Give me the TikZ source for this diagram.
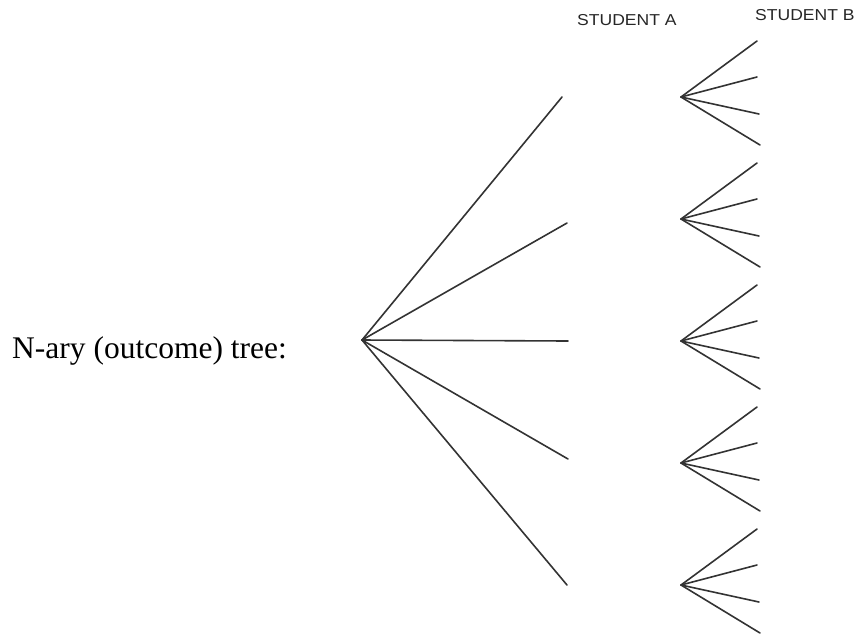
\documentclass[tikz,border=0pt]{standalone}
\usepackage{fontspec}
\usetikzlibrary{calc}
\setmainfont{Liberation Serif}
\newfontfamily\headfont{Liberation Sans}
\begin{document}
\begin{tikzpicture}[x=1pt,y=-1pt,
  branch/.style={draw=black!80,line width=1.6pt,line cap=round},
  caption/.style={anchor=base west,inner sep=0pt,font=\fontsize{31.5}{36}\selectfont},
  header/.style={anchor=base west,inner sep=0pt,text=black!85,
    font=\headfont\fontsize{15.8}{18}\selectfont}]
\useasboundingbox (0,0) rectangle (858,635);

% label on the left
\node[caption] (lbl) at (12,358) {N-ary (outcome) tree:};

% column headers
\node[header] (hA) at (577,25.5) {\scalebox{1.11}[1]{STUDENT A}};
\node[header] (hB) at (755,20.5) {\scalebox{1.11}[1]{STUDENT B}};

% first level: root and its five branches
\coordinate (root) at (362,340);
\coordinate (a1) at (562,97);
\coordinate (a2) at (567,223);
\coordinate (a3) at (568,341);
\coordinate (a4) at (568,459);
\coordinate (a5) at (567,585);
\foreach \i in {1,...,5}
  \draw[branch] (root) -- (a\i);

% second level: five fans of four branches each
\foreach \i in {1,...,5}{
  \coordinate (f\i) at (681,{97+122*(\i-1)});
  \coordinate (f\i e1) at ($(f\i)+(76,-56)$);
  \coordinate (f\i e2) at ($(f\i)+(76,-20)$);
  \coordinate (f\i e3) at ($(f\i)+(78,17)$);
  \coordinate (f\i e4) at ($(f\i)+(79,48)$);
  \foreach \j in {1,...,4}
    \draw[branch] (f\i) -- (f\i e\j);
}
\end{tikzpicture}
\end{document}
